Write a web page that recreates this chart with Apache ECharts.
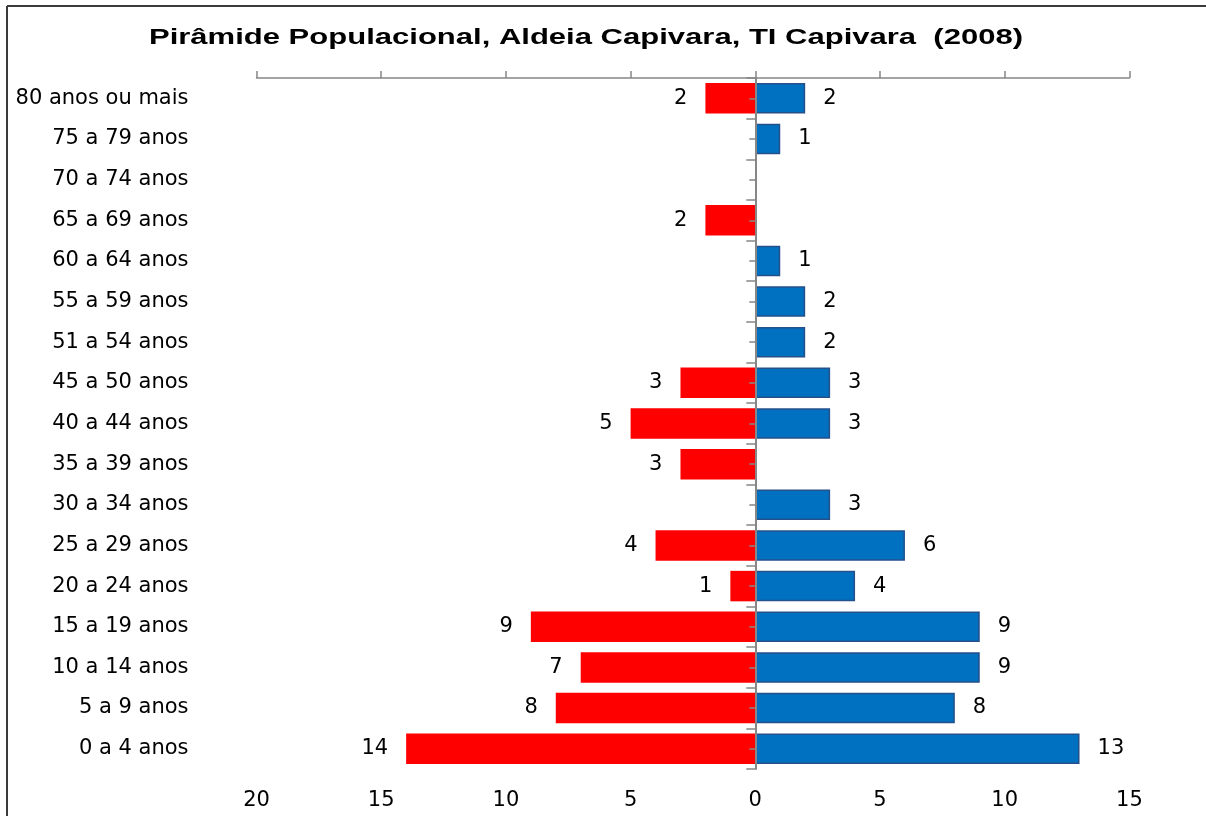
<!DOCTYPE html>
<html>
<head>
<meta charset="utf-8">
<script src="https://cdn.jsdelivr.net/npm/echarts@6/dist/echarts.min.js"></script>
<style>
  html, body { margin: 0; padding: 0; background: #fff; }
  #chart { width: 1206px; height: 816px; }
</style>
</head>
<body>
<div id="chart"></div>
<script>
'use strict';

// age groups, bottom to top
var ageGroups = ['0 a 4 anos', '5 a 9 anos', '10 a 14 anos', '15 a 19 anos', '20 a 24 anos',
  '25 a 29 anos', '30 a 34 anos', '35 a 39 anos', '40 a 44 anos', '45 a 50 anos',
  '51 a 54 anos', '55 a 59 anos', '60 a 64 anos', '65 a 69 anos', '70 a 74 anos',
  '75 a 79 anos', '80 anos ou mais'];
var leftValues = [14, 8, 7, 9, 1, 4, 0, 3, 5, 3, 0, 0, 0, 2, 0, 0, 2];   // red, drawn to the left
var rightValues = [13, 8, 9, 9, 4, 6, 3, 0, 3, 3, 2, 2, 1, 0, 0, 1, 2];  // blue, drawn to the right
var xTicks = [-20, -15, -10, -5, 0, 5, 10, 15];
var chartTitle = 'Pirâmide Populacional, Aldeia Capivara, TI Capivara  (2008)';

var gridLeft = 256.5;
var gridRight = 76.6;
var zeroOffset = (1206 - gridLeft - gridRight) * (0 - xTicks[0]) / (xTicks[xTicks.length - 1] - xTicks[0]);
var axisGray = '#878787';
var font = 'DejaVu Sans';

var myChart = echarts.init(document.getElementById('chart'));

function valueLabel(p) {
  var v = Math.abs(p.value);
  return v === 0 ? '' : String(v);
}

// empty groups get no bar at all (a zero bar would still draw its border)
function toBars(arr, sign) {
  return arr.map(function (v) { return v === 0 ? null : sign * v; });
}

var option = {
  animation: false,
  backgroundColor: '#ffffff',
  graphic: [
    { type: 'line', z: 10, shape: { x1: 7, y1: 6, x2: 1206, y2: 6 }, style: { stroke: '#3a3a3a', lineWidth: 2 } },
    { type: 'line', z: 10, shape: { x1: 7, y1: 6, x2: 7, y2: 816 }, style: { stroke: '#3a3a3a', lineWidth: 2 } },
    {
      // the source title is a wide, stretched bold sans
      type: 'text', z: 10, x: 586, y: 38, scaleX: 1.41,
      style: {
        text: chartTitle,
        font: 'bold 22px "Liberation Sans"',
        fill: '#000',
        align: 'center',
        verticalAlign: 'middle'
      }
    }
  ],
  grid: { left: gridLeft, right: gridRight, top: 78, bottom: 47 },
  xAxis: [{
    type: 'value',
    position: 'top',
    min: xTicks[0],
    max: xTicks[xTicks.length - 1],
    interval: 5,
    axisLine: { show: true, lineStyle: { color: axisGray, width: 1.5 } },
    axisTick: { show: true, length: 7, lineStyle: { color: axisGray, width: 1.5 } },
    axisLabel: { show: false },
    splitLine: { show: false }
  }, {
    type: 'value',
    position: 'bottom',
    min: xTicks[0],
    max: xTicks[xTicks.length - 1],
    interval: 5,
    axisLine: { show: false },
    axisTick: { show: false },
    splitLine: { show: false },
    axisLabel: {
      margin: 21,
      fontFamily: font,
      fontSize: 21,
      color: '#000',
      formatter: function (v) { return String(Math.abs(v)); }
    }
  }],
  yAxis: [{
    type: 'category',
    data: ageGroups,
    position: 'left',
    axisLine: { show: false },
    axisTick: { show: false },
    axisLabel: { margin: 68, fontFamily: font, fontSize: 21, color: '#000', interval: 0 }
  }, {
    type: 'category',
    data: ageGroups,
    position: 'left',
    offset: -zeroOffset,
    z: 5,
    axisLine: { show: true, lineStyle: { color: axisGray, width: 2 } },
    axisTick: { show: true, length: 9, lineStyle: { color: axisGray, width: 1.5 } },
    axisLabel: { show: false }
  }, {
    type: 'category',
    data: ageGroups,
    position: 'left',
    offset: -zeroOffset,
    z: 5,
    axisLine: { show: false },
    axisTick: { show: true, alignWithLabel: true, length: 6, lineStyle: { color: axisGray, width: 1.5 } },
    axisLabel: { show: false }
  }],
  series: [{
    name: 'left',
    type: 'bar',
    xAxisIndex: 0,
    yAxisIndex: 0,
    barCategoryGap: '25%',
    barGap: '-100%',
    z: 1,
    data: toBars(leftValues, -1),
    itemStyle: { color: '#ff0000' },
    label: {
      show: true,
      position: 'left',
      distance: 18,
      fontFamily: font,
      fontSize: 21,
      color: '#000',
      formatter: valueLabel
    }
  }, {
    name: 'right',
    type: 'bar',
    xAxisIndex: 0,
    yAxisIndex: 0,
    barCategoryGap: '25%',
    barGap: '-100%',
    z: 1,
    data: toBars(rightValues, 1),
    itemStyle: { color: '#0070c0', borderColor: '#25508a', borderWidth: 1.5 },
    label: {
      show: true,
      position: 'right',
      distance: 18,
      fontFamily: font,
      fontSize: 21,
      color: '#000',
      formatter: valueLabel
    }
  }]
};

myChart.setOption(option);

window.addEventListener('resize', function () {
  myChart.resize();
});
</script>
</body>
</html>
